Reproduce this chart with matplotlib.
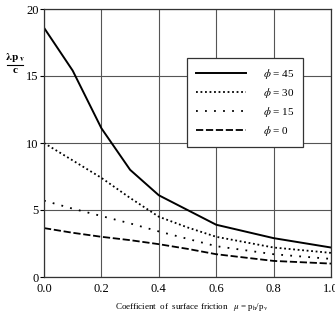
import numpy as np
import matplotlib
matplotlib.use('Agg')
import matplotlib.pyplot as plt

matplotlib.rcParams['font.family'] = 'Liberation Serif'
matplotlib.rcParams['mathtext.fontset'] = 'stix'

# friction coefficient
mu = [0.0, 0.1, 0.2, 0.3, 0.4, 0.5, 0.6, 0.8, 1.0]
phi45 = [18.6, 15.4, 11.1, 8.0, 6.1, 5.0, 3.9, 2.9, 2.2]
phi30 = [10.0, 8.7, 7.4, 5.9, 4.5, 3.7, 3.0, 2.2, 1.8]
phi15 = [5.7, 5.1, 4.55, 4.0, 3.4, 2.85, 2.3, 1.7, 1.35]
phi0 = [3.65, 3.3, 3.0, 2.75, 2.45, 2.1, 1.7, 1.2, 1.0]
labels = [r'$\phi$ = 45', r'$\phi$ = 30', r'$\phi$ = 15', r'$\phi$ = 0']

fig = plt.figure(figsize=(3.35, 3.13), dpi=100)
ax = fig.add_axes([44/335, 1 - 277/313, 287/335, 268/313])

ax.plot(mu, phi45, color='black', lw=1.4, ls='-', label=labels[0])
ax.plot(mu, phi30, color='black', lw=1.3, ls=(0, (1, 1.5)), label=labels[1])
ax.plot(mu, phi15, color='black', lw=1.3, ls=(0, (1, 4)), label=labels[2])
ax.plot(mu, phi0, color='black', lw=1.3, ls=(0, (4, 1.5)), label=labels[3])

ax.set_xlim(0, 1)
ax.set_ylim(0, 20)
ax.set_xticks(np.arange(0, 1.01, 0.2))
ax.set_xticklabels(['0.0', '0.2', '0.4', '0.6', '0.8', '1.0'])
ax.set_yticks(range(0, 21, 5))
ax.tick_params(axis='x', length=0, labelsize=9, pad=4)
ax.tick_params(axis='y', length=3, labelsize=9, pad=1)
ax.grid(color='#555555', lw=0.8)
for s in ax.spines.values():
    s.set_color('#333333')
    s.set_linewidth(0.9)

fig.text(15/335, 1 - 57/313, r'$\mathbf{\lambda p_{\ v}}$', ha='center', va='center', fontsize=8)
fig.add_artist(plt.Line2D([7/335, 23/335], [1 - 65/313, 1 - 65/313], color='black', lw=0.8))
fig.text(15/335, 1 - 71/313, 'c', ha='center', va='center', fontsize=8, fontweight='bold')

fig.text(192/335, 1 - 307/313, r'Coefficient  of  surface friction   $\mu$ = p$_\mathrm{h}$/p$_\mathrm{v}$',
         ha='center', va='center', fontsize=6.5)

leg = ax.legend(loc='upper left', bbox_to_anchor=(143/287, 1 - 49/268), fontsize=8,
                frameon=True, fancybox=False, edgecolor='#333333', framealpha=1,
                handlelength=4.5, handletextpad=1.5, labelspacing=0.45, borderpad=0.8,
                borderaxespad=0)
leg.get_frame().set_linewidth(0.9)

plt.savefig('out.png', dpi=100)
